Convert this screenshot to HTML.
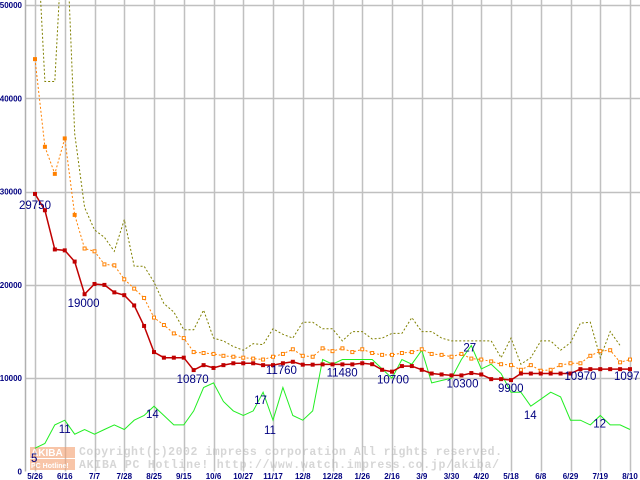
<!DOCTYPE html>
<html><head><meta charset="utf-8"><style>
html,body{margin:0;padding:0;background:#fff;}
svg{display:block;}
</style></head><body>
<svg id="chart" width="640" height="480" xmlns="http://www.w3.org/2000/svg"></svg>
<script>
const xLabels = ["5/26","6/16","7/7","7/28","8/25","9/15","10/6","10/27","11/17","12/8","12/28","1/26","2/16","3/9","3/30","4/20","5/18","6/8","6/29","7/19","8/10"];
const yTicks = [0,10000,20000,30000,40000,50000];
const minPrice = [29750,28000,23800,23700,22500,19000,20100,20000,19200,18900,
 17800,15600,12800,12200,12200,12200,10870,11400,11100,11400,
 11600,11600,11600,11400,11400,11600,11760,11450,11450,
 11480,11480,11480,11480,11600,11500,10900,10700,11300,11300,
 10900,10500,10400,10300,10300,10550,10400,9900,9900,9800,
 10500,10500,10500,10500,10500,10500,10970,10970,10970,10970,10970,10970];
const avgPrice = [44200,34800,31900,35700,27500,23900,23600,22200,22100,20600,
 19600,18600,16500,15700,14800,14300,12800,12700,12600,12400,
 12300,12200,12100,12000,12300,12600,13100,12400,12300,
 13200,12900,13200,12800,13100,12700,12500,12500,12700,12800,
 13100,12600,12500,12300,12600,12100,12000,11800,11500,11400,
 10900,11400,10800,10900,11400,11600,11600,12400,12900,13000,11700,12000];
const maxPrice = [62000,41800,41800,62000,36200,28300,25900,25100,23600,27000,
 22000,22000,20300,18000,17100,15200,15200,17300,14300,14000,
 13400,13000,13700,13600,15300,14700,14300,16000,16000,
 15300,15300,14000,15000,15000,14200,14300,14800,14800,16500,
 15000,15000,14300,14000,14000,14000,14000,14000,12200,14300,
 11500,12200,14000,14000,13000,13800,15900,16000,12200,15000,13500];
const shopCount = [5,6,10,11,8,9,8,9,10,9,11,12,14,12,10,10,13,18,19,15,13,12,13,17,11,18,12,11,13,
 24,23,24,24,24,24,22,20,24,23,26,19,19.5,20,24,27,22,23,21,17,17,14,15.5,17,16,11,11,10,12,10,10,9];
const priceLabels = [[0,"29750",-16,15],[5,"19000",-17,13],[16,"10870",-17,13],[26,"11760",-27,12],[29,"11480",4,12],[36,"10700",-15,12],[42,"10300",-5,12],[48,"9900",-13,12],[55,"10970",-16,11],[60,"10970",-16,11]];
const countLabels = [[0,"5",-4,14],[3,"11",-6,13],[12,"14",-8,12],[23,"17",-9,12],[24,"11",-9,14],[44,"27",-8,6],[50,"14",-7,13],[57,"12",-7,12]];

const NS="http://www.w3.org/2000/svg";
const svg=document.getElementById('chart');
const X0=25, Y0=471.5, PX=35, STEP=29.75/3;
function xk(k){return PX+k*STEP;}
function yv(v){return Y0-v*0.00933;}
function yc(c){return yv(c*500);}
function el(t,a,p){const e=document.createElementNS(NS,t);for(const k in a)e.setAttribute(k,a[k]);(p||svg).appendChild(e);return e;}

const defs=el('defs',{});
const cp=el('clipPath',{id:'plot'},defs);
el('rect',{x:X0,y:0,width:640-X0,height:Y0},cp);

const grid=el('g',{});


for(let i=0;i<xLabels.length;i++){
  const x=Math.round(PX+i*29.75)+0.5;
  const l=el('line',{x1:x,y1:0,x2:x,y2:Y0,stroke:'#c0c0c0','stroke-width':1.5},grid);
  
  
}
yTicks.forEach(v=>{
  if(v===0)return;
  const y=Math.round(yv(v))+0.5;
  const l=el('line',{x1:X0,y1:y,x2:640,y2:y,stroke:'#c0c0c0','stroke-width':1.5},grid);
  
  
});
const ax=el('line',{x1:X0+0.5,y1:0,x2:X0+0.5,y2:Y0,stroke:'#b0b0b0','stroke-width':1.5});



yTicks.forEach(v=>{
  const t=el('text',{x:22,y:Math.max(yv(v)+3,7),'text-anchor':'end','font-family':'Liberation Sans, sans-serif','font-size':8,'font-weight':'bold',fill:'#000080'});
  t.textContent=String(v);
  
  
});
xLabels.forEach((s,i)=>{
  const t=el('text',{x:PX+i*29.75,y:479,'text-anchor':'middle','font-family':'Liberation Sans, sans-serif','font-size':8,'font-weight':'bold',fill:'#000080'});
  t.textContent=s;
  
  
});

const wm=el('g',{opacity:0.6});


el('rect',{x:30,y:447,width:45,height:11,fill:'#f4a070'},wm);
el('rect',{x:30,y:459,width:45,height:11,fill:'#f4a070'},wm);
const wt1=el('text',{x:31,y:456,'font-family':'Liberation Sans, sans-serif','font-size':10,'font-weight':'bold',fill:'#fff'},wm);wt1.textContent='AKIBA';
const wt2=el('text',{x:31,y:468,'font-family':'Liberation Sans, sans-serif','font-size':7,'font-weight':'bold',fill:'#fff'},wm);wt2.textContent='PC Hotline!';
const wt3=el('text',{x:79,y:455,'font-family':'Liberation Mono, monospace','font-size':11.5,'font-weight':'bold',fill:'#bbb',textLength:423},wm);wt3.textContent='Copyright(c)2002 impress corporation All rights reserved.';
const wt4=el('text',{x:79,y:468,'font-family':'Liberation Mono, monospace','font-size':11.5,'font-weight':'bold',fill:'#bbb',textLength:420},wm);wt4.textContent='AKIBA PC Hotline! http://www.watch.impress.co.jp/akiba/';

const plot=el('g',{'clip-path':'url(#plot)'});
function series(arr,f,attrs,name){
  const pts=arr.map((v,k)=>xk(k).toFixed(1)+','+f(v).toFixed(1)).join(' ');
  const p=el('polyline',Object.assign({points:pts,fill:'none'},attrs),plot);
  
  
}
series(maxPrice,yv,{stroke:'#808000','stroke-width':1,'stroke-dasharray':'2,2'},'max-price-line');
series(shopCount,yc,{stroke:'#22ee22','stroke-width':1},'shop-count-line');
series(avgPrice,yv,{stroke:'#ff8000','stroke-width':1,'stroke-dasharray':'2,2'},'avg-price-line');
avgPrice.forEach((v,k)=>{
  const filled=k<5;
  const r=el('rect',{x:xk(k)-1.5,y:yv(v)-1.5,width:3,height:3,fill:filled?'#ff8000':'#fff',stroke:'#ff8000','stroke-width':1},plot);
  
  
});
series(minPrice,yv,{stroke:'#c00000','stroke-width':1.5},'min-price-line');
minPrice.forEach((v,k)=>{
  const r=el('rect',{x:xk(k)-2,y:yv(v)-2,width:4,height:4,fill:'#c00000'},plot);
  
  
});
priceLabels.forEach(([k,s,dx,dy])=>{
  const t=el('text',{x:xk(k)+dx,y:yv(minPrice[k])+dy,'font-family':'Liberation Sans, sans-serif','font-size':11.5,fill:'#000080'});
  t.textContent=s;
  
  
});
countLabels.forEach(([k,s,dx,dy])=>{
  const t=el('text',{x:xk(k)+dx,y:yc(shopCount[k])+dy,'font-family':'Liberation Sans, sans-serif','font-size':11.5,fill:'#000080'});
  t.textContent=s;
  
  
});
</script>
</body></html>
